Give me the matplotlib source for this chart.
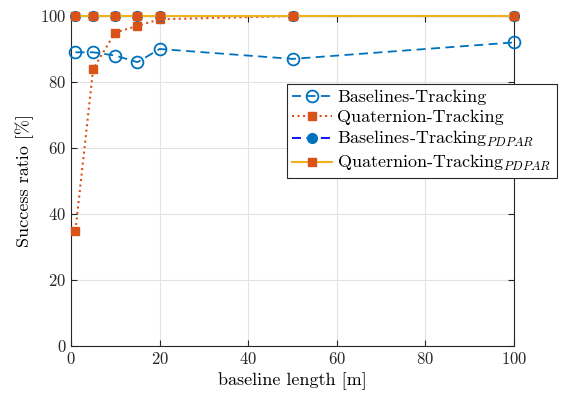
import numpy as np
import matplotlib.pyplot as plt

plt.rcParams['font.family'] = 'cmr10'
plt.rcParams['mathtext.fontset'] = 'cm'
plt.rcParams['axes.formatter.use_mathtext'] = True

baseline = [1, 5, 10, 15, 20, 50, 100]
bl_track = [89, 89, 88, 86, 90, 87, 92]
quat_track = [35, 84, 95, 97, 99, 100, 100]
bl_track_pdpar = [100, 100, 100, 100, 100, 100, 100]
quat_track_pdpar = [100, 100, 100, 100, 100, 100, 100]

blue = '#0072BD'
orange = '#D95319'
yellow = '#EDB120'

fig = plt.figure(figsize=(5.7, 4), dpi=100)
ax = fig.add_axes([0.1246, 0.135, 0.7772, 0.825])

ax.plot(baseline, bl_track, '--o', color=blue, lw=1.3, ms=8.5, mfc='none', mew=1.3,
        dashes=(5, 3), label='Baselines-Tracking', clip_on=False, zorder=3)
ax.plot(baseline, quat_track, ':s', color=orange, lw=1.5, ms=6, label='Quaternion-Tracking',
        clip_on=False, zorder=4)
ax.plot(baseline, bl_track_pdpar, '--o', color='b', lw=1.3, ms=7, mfc=blue, mec=blue,
        dashes=(5, 3), label=r'Baselines-Tracking$_{PDPAR}$', clip_on=False, zorder=5)
ax.plot(baseline, quat_track_pdpar, '-s', color=yellow, lw=1.5, ms=6, mfc=orange, mec=orange,
        label=r'Quaternion-Tracking$_{PDPAR}$', clip_on=False, zorder=6)

ax.set_xlim(0, 100)
ax.set_ylim(0, 100)
ax.set_xticks(np.arange(0, 101, 20))
ax.set_yticks(np.arange(0, 101, 20))
ax.grid(True, color='#e3e3e3', lw=0.8)
ax.set_axisbelow(True)
ax.tick_params(direction='in', length=4, labelsize=12, colors='#262626', top=True, right=True)
for s in ax.spines.values():
    s.set_color('#262626')
    s.set_linewidth(0.8)
    s.set_zorder(2)
ax.set_xlabel('baseline length [m]', fontsize=13)
ax.set_ylabel('Success ratio [%]', fontsize=13)

leg = fig.legend(loc='upper right', bbox_to_anchor=(0.993, 0.812), fontsize=13,
                 frameon=True, fancybox=False, edgecolor='#262626', framealpha=1,
                 handlelength=2.2, handletextpad=0.3, borderpad=0.3, labelspacing=0.22)
leg.get_frame().set_linewidth(0.8)
leg.set_zorder(10)

fig.savefig('out.png', dpi=100)
